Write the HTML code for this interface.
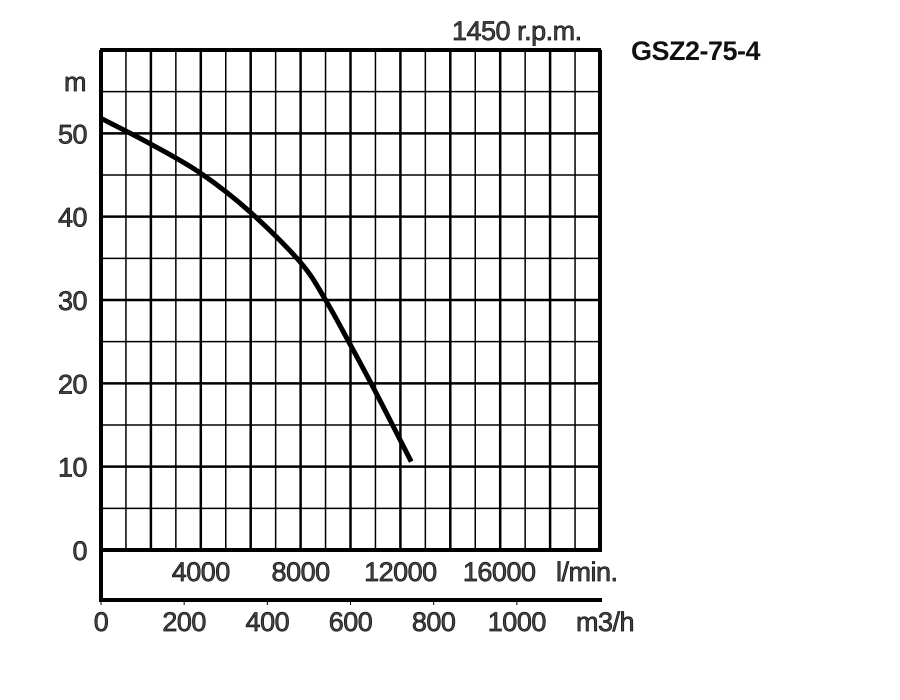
<!DOCTYPE html>
<html><head><meta charset="utf-8"><style>
html,body{margin:0;padding:0;background:#fff;width:900px;height:700px;overflow:hidden}
svg text{font-family:"Liberation Sans",Arial,sans-serif}
.lbl{font-size:27px;fill:#444;stroke:#111;stroke-width:0.7;letter-spacing:-0.5px}
</style></head><body>
<svg id="chart" width="900" height="700" viewBox="0 0 900 700" xmlns="http://www.w3.org/2000/svg">
<g id="grid"></g>
<g id="labels"></g>
<path id="curve" fill="none" stroke="#000" stroke-width="5" stroke-linecap="butt"/>
<text x="452" y="40" class="lbl">1450 r.p.m.</text>
<text x="631" y="60" font-size="27" font-weight="bold" fill="#111" letter-spacing="-0.5">GSZ2-75-4</text>
<text x="64" y="91" class="lbl">m</text>
</svg>
<script>
const flowM3h = [0, 120, 240, 360, 480, 540, 600, 660, 746];
const headM = [51.8, 48.7, 45.2, 40.5, 34.5, 30.0, 24.6, 19.0, 10.6];
const yTicks = [0, 10, 20, 30, 40, 50];
const m3hTicks = [0, 200, 400, 600, 800, 1000];
const lminTicks = [4000, 8000, 12000, 16000];

const X0 = 101, X1 = 600, Y0 = 550, Y1 = 50;
const xs = v => X0 + v * (X1 - X0) / 1200;
const ys = v => Y0 - v * (Y0 - Y1) / 60;
const NS = 'http://www.w3.org/2000/svg';
const grid = document.getElementById('grid');
const labels = document.getElementById('labels');
function line(x1,y1,x2,y2,w,name){
  const l=document.createElementNS(NS,'line');
  l.setAttribute('x1',x1);l.setAttribute('y1',y1);l.setAttribute('x2',x2);l.setAttribute('y2',y2);
  l.setAttribute('stroke','#000');l.setAttribute('stroke-width',w);
  
  
  grid.appendChild(l);
}
function text(x,y,s,anchor,name){
  const t=document.createElementNS(NS,'text');
  t.setAttribute('x',x);t.setAttribute('y',y);t.setAttribute('class','lbl');
  t.setAttribute('text-anchor',anchor);t.textContent=s;
  
  
  labels.appendChild(t);
}
for(let i=1;i<20;i++){const x=X0+i*(X1-X0)/20; line(x,Y1,x,Y0,i%2?1.5:2.5,'grid-vertical');}
for(let i=1;i<12;i++){const y=Y1+i*(Y0-Y1)/12; line(X0,y,X1,y,i%2?1.5:2.5,'grid-horizontal');}
line(X0-1,Y1,X1+1,Y1,4,'plot-border-top');
line(X1,Y1,X1,Y0,4,'plot-border-right');
line(X0,Y1,X0,600,4,'plot-border-left');
line(X0-2,Y0,X1+2,Y0,4,'plot-border-bottom');
line(X0-2,600,X1+2,600,4,'flow-axis-line');
yTicks.forEach(v=>text(87,ys(v)+10,String(v),'end','y-tick-label'));
m3hTicks.forEach(v=>{line(xs(v),600,xs(v),605,1,'x-tick');text(xs(v),631,String(v),'middle','m3h-tick-label');});
text(576,631,'m3/h','start','m3h-unit');
lminTicks.forEach(v=>text(xs(v*0.06)+(v===16000?-1:0),581,String(v),'middle','lmin-tick-label'));
text(556,581,'l/min.','start','lmin-unit');

const pts = flowM3h.map((f,i)=>[xs(f),ys(headM[i])]);
let d='M'+pts[0][0]+','+pts[0][1];
for(let i=0;i<pts.length-1;i++){
  const p0=pts[Math.max(0,i-1)],p1=pts[i],p2=pts[i+1],p3=pts[Math.min(pts.length-1,i+2)];
  const c1=[p1[0]+(p2[0]-p0[0])/6,p1[1]+(p2[1]-p0[1])/6];
  const c2=[p2[0]-(p3[0]-p1[0])/6,p2[1]-(p3[1]-p1[1])/6];
  d+=' C'+c1+' '+c2+' '+p2;
}
document.getElementById('curve').setAttribute('d',d);
</script>
</body></html>
